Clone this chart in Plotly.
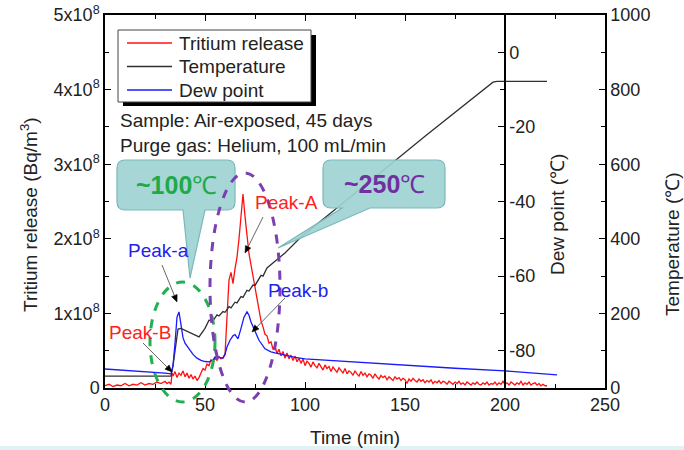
import math
import plotly.graph_objects as go

# ---------------- data ----------------
# Tritium release (units of 1e8 Bq/m3)
tr_time = ([0, 2, 4, 6, 8, 10, 12, 14, 16, 18, 20, 22, 24, 26, 28, 30,
            31, 32, 33, 33.5, 34, 35, 36, 37, 38, 39, 40, 41, 42, 43, 44, 45, 46, 47, 48, 49,
            50, 51, 52, 53, 54, 55, 56, 57, 58, 59, 60, 61, 62, 63, 64, 65, 66, 67, 68, 69,
            70, 71, 72, 73, 74, 75, 76, 77, 78, 79, 80, 81, 82, 83, 84, 85]
           + list(range(86, 222)))
tr_vals = [0.03, 0.05, 0.02, 0.04, 0.03, 0.06, 0.03, 0.05, 0.04, 0.07, 0.04, 0.06, 0.05, 0.08, 0.06, 0.09,
           0.06, 0.08, 0.05, 0.20, 0.16, 0.22, 0.14, 0.20, 0.17, 0.23, 0.15, 0.20, 0.13, 0.18, 0.12, 0.16, 0.10, 0.14, 0.20, 0.26,
           0.24, 0.32, 0.30, 0.38, 0.35, 0.40, 0.37, 0.42, 0.39, 0.41, 0.45, 0.90, 1.45, 1.55, 1.40, 1.60, 1.75, 2.00, 2.35, 2.60,
           2.30, 2.00, 1.80, 1.65, 1.50, 1.35, 1.15, 1.00, 0.90, 0.82, 0.72, 0.70, 0.60, 0.62, 0.52, 0.56,
           0.46, 0.52, 0.43, 0.49, 0.40, 0.47, 0.39, 0.44, 0.37, 0.43,
           0.35, 0.40, 0.33, 0.39, 0.30, 0.36, 0.33, 0.28, 0.35, 0.30,
           0.27, 0.33, 0.29, 0.24, 0.31, 0.26, 0.29, 0.22, 0.28, 0.25,
           0.21, 0.27, 0.23, 0.20, 0.26, 0.19, 0.23, 0.21, 0.17, 0.23,
           0.19, 0.16, 0.22, 0.17, 0.20, 0.15, 0.19, 0.17, 0.13, 0.19,
           0.15, 0.12, 0.17, 0.14, 0.16, 0.11, 0.15, 0.13, 0.10, 0.15,
           0.12, 0.14, 0.10, 0.13, 0.11, 0.06, 0.12, 0.09, 0.13, 0.10,
           0.08, 0.12, 0.09, 0.11, 0.07, 0.10, 0.08, 0.11, 0.06, 0.09,
           0.07, 0.10, 0.06, 0.09, 0.08, 0.05, 0.09, 0.07, 0.05, 0.08,
           0.06, 0.09, 0.05, 0.07, 0.04, 0.08, 0.06, 0.04, 0.07, 0.05,
           0.08, 0.05, 0.04, 0.07, 0.05, 0.08, 0.04, 0.06, 0.05, 0.08,
           0.04, 0.07, 0.05, 0.09, 0.05, 0.07, 0.04, 0.08, 0.06, 0.04,
           0.07, 0.05, 0.09, 0.04, 0.07, 0.05, 0.08, 0.04, 0.06, 0.07,
           0.04, 0.06, 0.03, 0.05, 0.03, 0.03]

# Temperature (deg C)
temp_time = [0, 33, 34, 36.5, 38, 42, 47, 50, 52, 54, 56, 57, 59, 60, 62, 63, 65, 66, 68, 69,
             71, 72, 74, 75, 78, 79, 81, 85, 90, 97.5, 110, 120, 130, 145, 160, 175, 190, 194, 196, 221]
temp_vals = [32, 32, 60, 158, 160, 150, 137, 160, 182, 180, 196, 193, 205, 203, 218, 215, 230, 228, 245, 243,
             262, 260, 276, 275, 302, 300, 322, 340, 362, 402, 456, 499, 543, 609, 675, 740, 805, 820, 822, 822]

# Dew point (deg C)
dew_time = [0, 10, 20, 30, 33, 34, 35, 36, 37, 38, 39, 40, 42, 44, 46, 48, 50, 52, 54, 55, 57, 59,
            60, 61, 62.5, 64, 65, 66.5, 68, 69.5, 71, 72, 73, 75, 77, 80, 83, 85, 90, 95, 100,
            125, 150, 175, 200, 226]
dew_vals = [-84.9, -85.2, -85.6, -86.0, -86.2, -84.0, -78.0, -71.0, -69.6, -73.0, -76.5, -78.0, -79.5,
            -81.0, -82.0, -82.6, -82.9, -83.0, -82.5, -81.7, -81.8, -82.0, -81.0, -79.0, -77.2, -76.0,
            -75.7, -76.8, -74.0, -71.0, -69.6, -70.5, -72.3, -75.0, -77.2, -79.5, -80.3, -80.6, -81.3,
            -81.8, -82.2, -83.1, -83.9, -84.7, -85.4, -86.5]

series_names = ["Tritium release", "Temperature", "Dew point"]
series_colors = ["#ff1010", "#303030", "#1a1aff"]

x_ticks = [0, 50, 100, 150, 200, 250]
y_ticks = [0, 1e8, 2e8, 3e8, 4e8, 5e8]
y_ticktext = ["0", "1x10<sup>8</sup>", "2x10<sup>8</sup>", "3x10<sup>8</sup>", "4x10<sup>8</sup>", "5x10<sup>8</sup>"]
temp_ticks = [0, 200, 400, 600, 800, 1000]
dew_ticks = [-80, -60, -40, -20, 0]
dew_ticktext = ["-80", "-60", "-40", "-20", "0"]

# ---------------- layout helpers ----------------
W, H = 684, 450
L, R, T, B = 105, 605, 15, 388


def px(x):
    return (x - L) / (R - L)


def py(y):
    return (B - y) / (B - T)


FONT = "Liberation Sans, Arial, sans-serif"
TXT = "#222222"

fig = go.Figure()
fig.add_trace(go.Scatter(x=tr_time, y=[v * 1e8 for v in tr_vals], mode="lines", name=series_names[0],
                         line=dict(color=series_colors[0], width=1.3), yaxis="y"))
fig.add_trace(go.Scatter(x=temp_time, y=temp_vals, mode="lines", name=series_names[1],
                         line=dict(color=series_colors[1], width=1.3), yaxis="y2"))
fig.add_trace(go.Scatter(x=dew_time, y=dew_vals, mode="lines", name=series_names[2],
                         line=dict(color=series_colors[2], width=1.3), yaxis="y3"))

axis_common = dict(showline=True, linecolor="black", linewidth=1.5, ticks="inside", ticklen=6,
                   tickcolor="black", tickwidth=1.2, showgrid=False, zeroline=False, automargin=False,
                   tickfont=dict(family=FONT, size=18, color=TXT))

fig.update_layout(
    width=W, height=H,
    margin=dict(l=L, r=W - R, t=T, b=H - B, autoexpand=False),
    paper_bgcolor="white", plot_bgcolor="white",
    font=dict(family=FONT, size=18, color=TXT),
    showlegend=False,
    xaxis=dict(range=[0, 250], tickvals=x_ticks, mirror="ticks",
               minor=dict(dtick=25, ticks="inside", ticklen=4, tickcolor="black"), **axis_common),
    yaxis=dict(range=[0, 5e8], tickvals=y_ticks, ticktext=y_ticktext,
               minor=dict(dtick=0.5e8, ticks="inside", ticklen=4, tickcolor="black"), **axis_common),
    yaxis2=dict(range=[0, 1000], tickvals=temp_ticks, overlaying="y", side="right", anchor="x",
                minor=dict(dtick=100, ticks="inside", ticklen=4, tickcolor="black"), **axis_common),
    yaxis3=dict(range=[-90, 10], tickvals=dew_ticks, ticktext=dew_ticktext, overlaying="y", side="right",
                anchor="free", position=px(505),
                minor=dict(tickvals=[-90, -70, -50, -30, -10, 10], ticks="inside", ticklen=4, tickcolor="black"),
                **axis_common),
)

shapes = []
ann = []


def text(xp, yp, s, color, size=19, xanchor="center", angle=0):
    ann.append(dict(xref="paper", yref="paper", x=px(xp), y=py(yp), text=s, showarrow=False,
                    xanchor=xanchor, yanchor="middle", textangle=angle,
                    font=dict(family=FONT, size=size, color=color)))


# axis titles
text(355, 437, "Time (min)", TXT, 19)
text(29, 215, "Tritium release (Bq/m<sup>3</sup>)", TXT, 19, angle=-90)
text(557, 215, "Dew point (℃)", TXT, 19, angle=-90)
text(672, 244, "Temperature (℃)", TXT, 19, angle=-90)

# bottom strip
shapes.append(dict(type="rect", xref="paper", yref="paper", x0=px(0), x1=px(684), y0=py(451), y1=py(446),
                   fillcolor="#dff3f5", line=dict(width=0), layer="below"))

# manual legend with shadow
shapes.append(dict(type="rect", xref="paper", yref="paper", x0=px(123), x1=px(316), y0=py(106), y1=py(35),
                   fillcolor="black", line=dict(width=0), layer="above"))
shapes.append(dict(type="rect", xref="paper", yref="paper", x0=px(118), x1=px(311), y0=py(102), y1=py(30),
                   fillcolor="white", line=dict(color="#444444", width=1), layer="above"))
for i, (nm, col) in enumerate(zip(series_names, series_colors)):
    yy = 43 + i * 23.5
    shapes.append(dict(type="line", xref="paper", yref="paper", x0=px(127), x1=px(172), y0=py(yy), y1=py(yy),
                       line=dict(color=col, width=1.3), layer="above"))
    text(177, yy, nm, TXT, 19, "left")

text(118, 121, "Sample: Air-exposed, 45 days", TXT, 19, "left")
text(118, 145, "Purge gas: Helium, 100 mL/min", TXT, 19, "left")


def callout(x0, y0, x1, y1, bx0, bx1, tipx, tipy, r=8):
    pts = [
        f"M {px(x0 + r)},{py(y0)}",
        f"L {px(x1 - r)},{py(y0)}",
        f"Q {px(x1)},{py(y0)} {px(x1)},{py(y0 + r)}",
        f"L {px(x1)},{py(y1 - r)}",
        f"Q {px(x1)},{py(y1)} {px(x1 - r)},{py(y1)}",
        f"L {px(bx1)},{py(y1)}",
        f"L {px(tipx)},{py(tipy)}",
        f"L {px(bx0)},{py(y1)}",
        f"L {px(x0 + r)},{py(y1)}",
        f"Q {px(x0)},{py(y1)} {px(x0)},{py(y1 - r)}",
        f"L {px(x0)},{py(y0 + r)}",
        f"Q {px(x0)},{py(y0)} {px(x0 + r)},{py(y0)}",
        "Z",
    ]
    return dict(type="path", xref="paper", yref="paper", path=" ".join(pts),
                fillcolor="rgba(160,210,212,0.92)", line=dict(color="#7ab8bb", width=1.2), layer="above")


shapes.append(callout(117, 160, 235, 210, 183, 205, 190, 278))
shapes.append(callout(323, 160, 445, 208, 342, 370, 278, 248))

# dashed ellipses
shapes.append(dict(type="circle", xref="paper", yref="paper", x0=px(150), x1=px(215), y0=py(402), y1=py(282),
                   line=dict(color="#22b050", width=3, dash="dash"), layer="above"))
shapes.append(dict(type="circle", xref="paper", yref="paper", x0=px(210), x1=px(280), y0=py(402), y1=py(173),
                   line=dict(color="#7a3fb0", width=3, dash="dash"), layer="above"))

text(176, 185, "<b>~100</b>℃", "#1faa4a", 25)
text(384, 184, "<b>~250</b>℃", "#7030a0", 25)
text(158, 250, "Peak-a", "#2222ee", 19)
text(140, 332, "Peak-B", "#ff2020", 19)
text(286, 202, "Peak-A", "#ff2020", 19)
text(298, 290, "Peak-b", "#2222ee", 19)


def arrow(hx, hy, tx, ty):
    d = math.hypot(hx - tx, hy - ty)
    ux, uy = (hx - tx) / d, (hy - ty) / d
    hl, hw = 7.0, 3.0
    bx, by = hx - ux * hl, hy - uy * hl
    shapes.append(dict(type="line", xref="paper", yref="paper", x0=px(tx), y0=py(ty), x1=px(bx), y1=py(by),
                       line=dict(color="#666666", width=1), layer="above"))
    p1 = (bx - uy * hw, by + ux * hw)
    p2 = (bx + uy * hw, by - ux * hw)
    path = f"M {px(hx)},{py(hy)} L {px(p1[0])},{py(p1[1])} L {px(p2[0])},{py(p2[1])} Z"
    shapes.append(dict(type="path", xref="paper", yref="paper", path=path, fillcolor="black",
                       line=dict(color="black", width=0.5), layer="above"))


arrow(177, 302, 162, 265)
arrow(172, 372, 143, 343)
arrow(245, 253, 263, 217)
arrow(252, 332, 285, 298)

fig.update_layout(shapes=shapes, annotations=ann)
fig.write_html("out.html", config={"displayModeBar": False},
               post_script="document.body.style.margin='0';document.body.style.overflow='hidden';")
